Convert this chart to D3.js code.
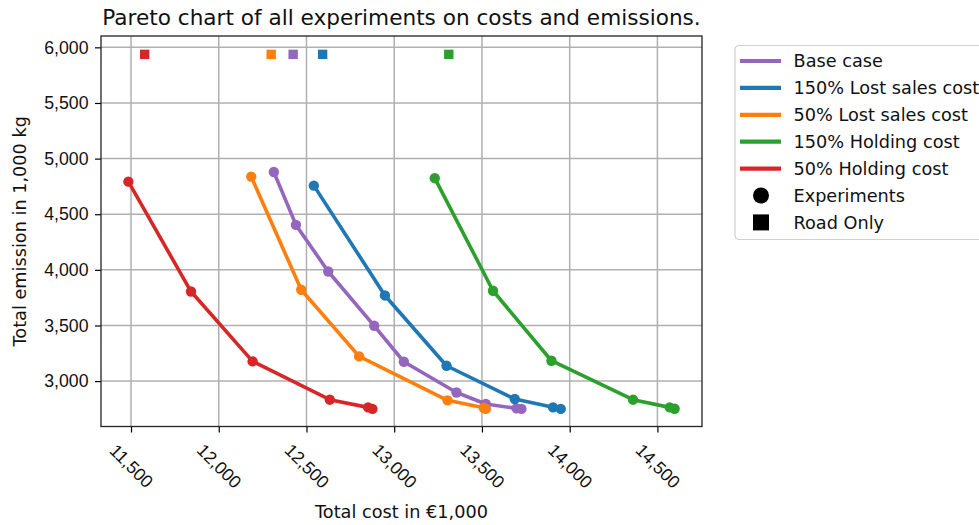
<!DOCTYPE html>
<html>
<head>
<meta charset="utf-8">
<script src="https://cdn.jsdelivr.net/npm/d3@7"></script>
<style>
  body { margin: 0; background: #fff; }
  svg { font-family: "DejaVu Sans", sans-serif; }
</style>
</head>
<body>
<div id="chart"></div>
<script>
// series, in legend order
const seriesNames = ['Base case', '150% Lost sales cost', '50% Lost sales cost', '150% Holding cost', '50% Holding cost'];
const seriesColors = ['#9467bd', '#1f77b4', '#ff7f0e', '#2ca02c', '#d62728'];

// total cost (€1,000) and total emission (1,000 kg) per experiment
const baseCost = [12314, 12440, 12624, 12886, 13055, 13355, 13522, 13697, 13725];
const baseEmission = [4880, 4404, 3985, 3497, 3174, 2898, 2794, 2755, 2750];
const lostHighCost = [12542, 12947, 13298, 13687, 13905, 13949];
const lostHighEmission = [4757, 3770, 3138, 2839, 2764, 2750];
const lostLowCost = [12185, 12470, 12800, 13304, 13510, 13522];
const lostLowEmission = [4838, 3821, 3222, 2827, 2760, 2750];
const holdHighCost = [13231, 13563, 13896, 14361, 14570, 14598];
const holdHighEmission = [4824, 3812, 3183, 2833, 2764, 2752];
const holdLowCost = [11485, 11842, 12193, 12633, 12851, 12876];
const holdLowEmission = [4793, 3805, 3177, 2833, 2764, 2750];

// road-only solution per scenario (same order as seriesNames)
const roadCost = [12424, 12592, 12299, 13311, 11578];
const roadEmission = [5937, 5937, 5937, 5937, 5937];

const xTicks = [11500, 12000, 12500, 13000, 13500, 14000, 14500];
const yTicks = [3000, 3500, 4000, 4500, 5000, 5500, 6000];

const seriesCost = [baseCost, lostHighCost, lostLowCost, holdHighCost, holdLowCost];
const seriesEmission = [baseEmission, lostHighEmission, lostLowEmission, holdHighEmission, holdLowEmission];

const width = 979, height = 525;
const margin = { top: 36, right: 277, bottom: 98.5, left: 101 };
const fs = 17.7;

const svg = d3.select('#chart').append('svg')
  .attr('width', width)
  .attr('height', height);

const x = d3.scaleLinear().domain([11329, 14754]).range([margin.left, width - margin.right]);
const y = d3.scaleLinear().domain([2592, 6102]).range([height - margin.bottom, margin.top]);
const fmt = d3.format(',');

// grid
svg.append('g').selectAll('line').data(xTicks).join('line')
  .attr('x1', d => x(d)).attr('x2', d => x(d))
  .attr('y1', margin.top).attr('y2', height - margin.bottom)
  .attr('stroke', '#b0b0b0').attr('stroke-width', 1.5);
svg.append('g').selectAll('line').data(yTicks).join('line')
  .attr('y1', d => y(d)).attr('y2', d => y(d))
  .attr('x1', margin.left).attr('x2', width - margin.right)
  .attr('stroke', '#b0b0b0').attr('stroke-width', 1.5);

// series lines + markers
const line = d3.line().x(d => x(d[0])).y(d => y(d[1]));
seriesNames.forEach((name, i) => {
  const pts = seriesCost[i].map((c, j) => [c, seriesEmission[i][j]]);
  const g = svg.append('g');
  g.append('path')
    .attr('d', line(pts))
    .attr('fill', 'none')
    .attr('stroke', seriesColors[i])
    .attr('stroke-width', 3.6)
    .attr('stroke-linejoin', 'round');
  g.selectAll('circle').data(pts).join('circle')
    .attr('cx', d => x(d[0])).attr('cy', d => y(d[1]))
    .attr('r', 5.2)
    .attr('fill', seriesColors[i]);
});

// road only squares
svg.append('g').selectAll('rect').data(roadCost).join('rect')
  .attr('x', (d, i) => x(d) - 4.7)
  .attr('y', (d, i) => y(roadEmission[i]) - 4.7)
  .attr('width', 9.4).attr('height', 9.4)
  .attr('fill', (d, i) => seriesColors[i]);

// axes
const xAxis = svg.append('g')
  .attr('transform', `translate(0,${height - margin.bottom})`)
  .call(d3.axisBottom(x).tickValues(xTicks).tickFormat(fmt).tickSize(6).tickSizeOuter(0));
xAxis.select('.domain').remove();
xAxis.selectAll('line').attr('stroke', '#000').attr('stroke-width', 1.2);
xAxis.selectAll('text')
  .attr('font-size', fs)
  .attr('fill', '#111')
  .attr('text-anchor', 'middle')
  .attr('dy', '0.35em')
  .attr('y', 0)
  .attr('transform', 'translate(0,39.5) rotate(45)');

const yAxis = svg.append('g')
  .attr('transform', `translate(${margin.left},0)`)
  .call(d3.axisLeft(y).tickValues(yTicks).tickFormat(fmt).tickSize(6).tickSizeOuter(0));
yAxis.select('.domain').remove();
yAxis.selectAll('line').attr('stroke', '#000').attr('stroke-width', 1.2);
yAxis.selectAll('text').attr('font-size', fs).attr('fill', '#111').attr('x', -12.5);

// frame
svg.append('rect')
  .attr('x', margin.left).attr('y', margin.top)
  .attr('width', width - margin.right - margin.left)
  .attr('height', height - margin.bottom - margin.top)
  .attr('fill', 'none').attr('stroke', '#222').attr('stroke-width', 1.3);

// title and labels
svg.append('text')
  .attr('x', (margin.left + width - margin.right) / 2).attr('y', 25)
  .attr('text-anchor', 'middle').attr('font-size', 21.6).attr('fill', '#111')
  .text('Pareto chart of all experiments on costs and emissions.');
svg.append('text')
  .attr('x', (margin.left + width - margin.right) / 2).attr('y', 518)
  .attr('text-anchor', 'middle').attr('font-size', fs).attr('fill', '#111')
  .text('Total cost in €1,000');
svg.append('text')
  .attr('transform', `translate(26,${(margin.top + height - margin.bottom) / 2}) rotate(-90)`)
  .attr('text-anchor', 'middle').attr('font-size', fs).attr('fill', '#111')
  .text('Total emission in 1,000 kg');

// legend
const legend = svg.append('g').attr('transform', 'translate(735,45.5)');
legend.append('rect')
  .attr('x', 0).attr('y', 0).attr('width', 260).attr('height', 194)
  .attr('rx', 4).attr('fill', '#fff').attr('stroke', '#d0d0d0').attr('stroke-width', 1.2);
const rowY = i => 15.5 + i * 26.9;
seriesNames.forEach((name, i) => {
  legend.append('line')
    .attr('x1', 5).attr('x2', 46).attr('y1', rowY(i)).attr('y2', rowY(i))
    .attr('stroke', seriesColors[i]).attr('stroke-width', 4.2);
  legend.append('text')
    .attr('x', 58.5).attr('y', rowY(i)).attr('dy', '0.35em')
    .attr('font-size', fs).attr('fill', '#111').text(name);
});
legend.append('circle').attr('cx', 26).attr('cy', rowY(5)).attr('r', 8).attr('fill', '#000');
legend.append('text').attr('x', 58.5).attr('y', rowY(5)).attr('dy', '0.35em')
  .attr('font-size', fs).attr('fill', '#111').text('Experiments');
legend.append('rect').attr('x', 18).attr('y', rowY(6) - 8).attr('width', 16).attr('height', 16).attr('fill', '#000');
legend.append('text').attr('x', 58.5).attr('y', rowY(6)).attr('dy', '0.35em')
  .attr('font-size', fs).attr('fill', '#111').text('Road Only');
</script>
</body>
</html>
